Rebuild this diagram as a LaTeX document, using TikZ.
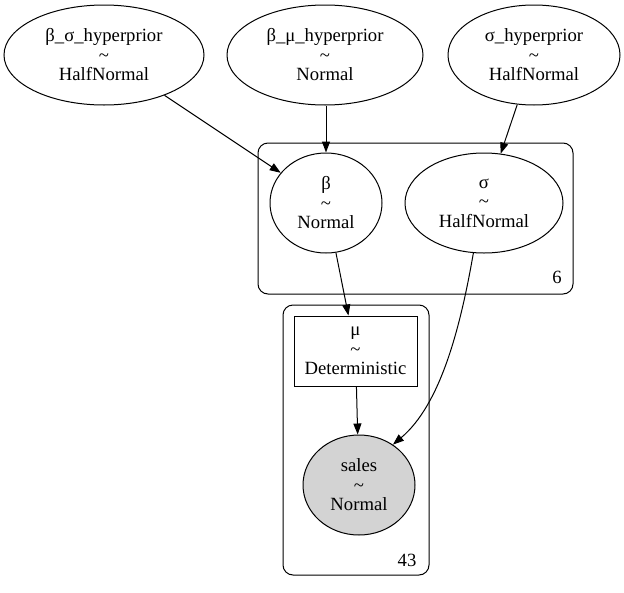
\documentclass[tikz,border=0pt]{standalone}
\usepackage{fontspec}
\setmainfont{Liberation Serif}
\usetikzlibrary{shapes.geometric,arrows.meta}
\definecolor{gvgray}{HTML}{D3D3D3}
\begin{document}
\begin{tikzpicture}[x=1pt,y=-1pt,
  every node/.style={font=\fontsize{18.67}{19.5}\selectfont, align=center, inner sep=0pt},
  rv/.style={draw, ellipse, line width=1pt},
  detbox/.style={draw, rectangle, line width=1pt},
  plate/.style={draw, rectangle, rounded corners=10pt, line width=1pt},
  edge/.style={line width=1pt, -{Triangle[length=11pt,width=8pt]}},
  ]
\useasboundingbox (0,0) rectangle (624,592);
% plates
\node[plate, minimum width=315pt, minimum height=151pt] (p6) at (415.5,218.5) {};
\node[plate, minimum width=146pt, minimum height=270pt] (p43) at (356,440) {};
\node (l6) at (557,277) {6};
\node (l43) at (407,560) {43};
% nodes
\node[rv, minimum width=200pt, minimum height=100pt] (bs) at (104,55) {β\_σ\_hyperprior\\\textasciitilde\\HalfNormal};
\node[rv, minimum width=196pt, minimum height=100pt] (bm) at (325,55) {β\_μ\_hyperprior\\\textasciitilde\\Normal};
\node[rv, minimum width=172pt, minimum height=100pt] (sh) at (534,55) {σ\_hyperprior\\\textasciitilde\\HalfNormal};
\node[rv, minimum width=112pt, minimum height=100pt] (b) at (326,203) {β\\\textasciitilde\\Normal};
\node[rv, minimum width=158pt, minimum height=100pt] (sg) at (484,203) {σ\\\textasciitilde\\HalfNormal};
\node[detbox, minimum width=123pt, minimum height=70pt] (mu) at (355.5,351) {μ\\\textasciitilde\\Deterministic};
\node[rv, fill=gvgray, minimum width=112pt, minimum height=100pt] (sales) at (359,485) {sales\\\textasciitilde\\Normal};
% edges
\draw[edge] (bs) -- (b);
\draw[edge] (bm.south -| b.north) -- (b.north);
\draw[edge] (sh) -- (sg);
\draw[edge] (b) -- (mu);
\draw[edge] (mu) -- (sales);
\draw[edge] (sg.258.7) .. controls (460,330) and (440,405) .. (sales.50);
\end{tikzpicture}
\end{document}
